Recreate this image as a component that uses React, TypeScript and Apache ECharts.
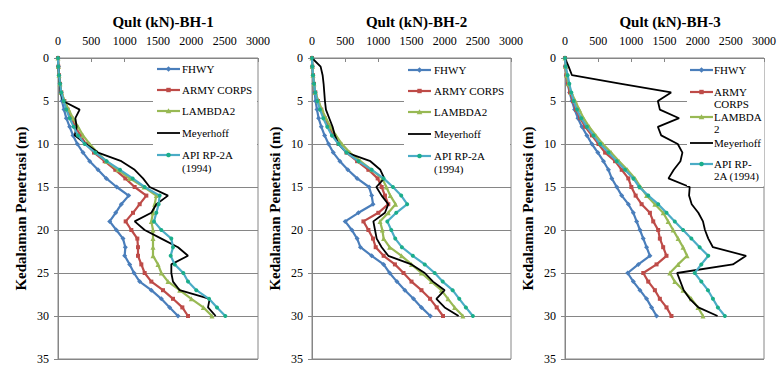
import React, { useEffect, useRef } from "react";
import * as echarts from "echarts";

const depths = [0, 1, 2, 3, 4, 5, 6, 7, 8, 9, 10, 11, 12, 13, 14, 15, 16, 17, 18, 19, 20, 21, 22, 23, 24, 25, 26, 27, 28, 29, 30];

const seriesNames = ["FHWY", "ARMY CORPS", "LAMBDA2", "Meyerhoff", "API RP-2A (1994)"];
const panelTitles = ["Qult (kN)-BH-1", "Qult (kN)-BH-2", "Qult (kN)-BH-3"];
const xTicks = [0, 500, 1000, 1500, 2000, 2500, 3000];
const yTicks = [0, 5, 10, 15, 20, 25, 30, 35];

// BH-1
const bh1Fhwy = [0, 5, 15, 30, 45, 60, 90, 125, 175, 225, 290, 375, 475, 600, 725, 880, 1060, 950, 865, 775, 875, 975, 1010, 1000, 1075, 1140, 1225, 1400, 1550, 1675, 1800];
const bh1Army = [0, 5, 15, 30, 50, 95, 145, 200, 260, 335, 420, 540, 700, 860, 1010, 1150, 1325, 1225, 1125, 1015, 1100, 1190, 1200, 1200, 1250, 1300, 1400, 1575, 1725, 1865, 1950];
const bh1Lambda = [0, 5, 15, 30, 50, 100, 160, 225, 300, 375, 475, 590, 725, 900, 1075, 1290, 1475, 1450, 1425, 1400, 1425, 1425, 1425, 1425, 1500, 1550, 1650, 1825, 2000, 2180, 2310];
const bh1Meyer = [0, 5, 15, 25, 40, 75, 325, 260, 280, 250, 420, 600, 950, 1150, 1275, 1375, 1650, 1475, 1400, 1150, 1300, 1550, 1800, 1950, 1700, 1700, 1725, 1825, 2275, 2250, 2365];
const bh1Api = [0, 5, 15, 30, 50, 85, 125, 175, 235, 300, 400, 560, 730, 930, 1120, 1300, 1525, 1510, 1475, 1440, 1550, 1700, 1725, 1690, 1750, 1880, 1950, 2075, 2265, 2385, 2510];

// BH-2
const bh2Fhwy = [0, 5, 15, 25, 40, 55, 75, 100, 140, 190, 250, 320, 420, 540, 680, 860, 900, 920, 700, 500, 600, 680, 730, 900, 1080, 1170, 1280, 1400, 1530, 1650, 1785];
const bh2Army = [0, 5, 15, 30, 50, 90, 140, 190, 250, 320, 400, 520, 680, 850, 990, 1050, 1100, 1150, 1000, 775, 850, 920, 960, 1080, 1250, 1380, 1500, 1650, 1780, 1880, 1975];
const bh2Lambda = [0, 5, 15, 30, 50, 95, 150, 210, 280, 360, 450, 570, 730, 900, 1060, 1120, 1180, 1260, 1150, 1025, 1060, 1080, 1170, 1350, 1500, 1650, 1800, 1950, 2050, 2150, 2275];
const bh2Meyer = [0, 130, 160, 175, 185, 195, 210, 260, 310, 345, 400, 520, 880, 1030, 1090, 970, 1050, 1150, 1100, 925, 950, 975, 1050, 1150, 1500, 1700, 1825, 2000, 1875, 2000, 2210];
const bh2Api = [0, 5, 15, 30, 50, 80, 120, 170, 230, 300, 400, 520, 700, 900, 1080, 1220, 1345, 1435, 1270, 1135, 1195, 1255, 1355, 1520, 1700, 1850, 1970, 2120, 2220, 2320, 2425];

// BH-3
const bh3Fhwy = [0, 5, 20, 40, 70, 105, 145, 195, 255, 330, 405, 495, 580, 655, 705, 780, 855, 955, 1030, 1080, 1130, 1180, 1230, 1280, 1105, 945, 1030, 1130, 1230, 1305, 1380];
const bh3Army = [0, 5, 20, 45, 75, 120, 165, 230, 305, 405, 505, 605, 755, 855, 955, 1000, 1065, 1155, 1280, 1330, 1405, 1430, 1480, 1530, 1380, 1180, 1255, 1355, 1430, 1530, 1605];
const bh3Lambda = [0, 10, 25, 50, 95, 155, 215, 280, 365, 465, 570, 695, 815, 940, 1055, 1140, 1230, 1355, 1480, 1555, 1630, 1705, 1780, 1840, 1705, 1580, 1655, 1780, 1905, 2005, 2080];
const bh3Meyer = [0, 55, 105, 850, 1600, 1400, 1430, 1720, 1400, 1450, 1700, 1770, 1740, 1640, 1560, 1880, 1870, 1910, 2010, 2080, 2110, 2160, 2230, 2730, 2530, 1690, 1740, 1790, 1880, 2010, 2300];
const bh3Api = [0, 10, 40, 65, 95, 130, 180, 245, 330, 430, 530, 655, 780, 905, 1030, 1120, 1255, 1405, 1530, 1655, 1780, 1905, 2030, 2160, 2055, 1955, 2055, 2155, 2230, 2305, 2410];

const panels = [
  [bh1Fhwy, bh1Army, bh1Lambda, bh1Meyer, bh1Api],
  [bh2Fhwy, bh2Army, bh2Lambda, bh2Meyer, bh2Api],
  [bh3Fhwy, bh3Army, bh3Lambda, bh3Meyer, bh3Api],
];

const legendLines = [
  [["FHWY"], ["ARMY CORPS"], ["LAMBDA2"], ["Meyerhoff"], ["API RP-2A", "(1994)"]],
  [["FHWY"], ["ARMY CORPS"], ["LAMBDA2"], ["Meyerhoff"], ["API RP-2A", "(1994)"]],
  [["FHWY"], ["ARMY", "CORPS"], ["LAMBDA", "2"], ["Meyerhoff"], ["API RP-", "2A (1994)"]],
];

const COLORS = ["#4A7EBB", "#BE4B48", "#98B954", "#000000", "#4BACC6"];
const SYMBOLS = ["diamond", "rect", "triangle", "none", "circle"];
const SYM_SIZE = [5, 4, 5, 0, 4];
const FONT = "'Liberation Serif', 'Times New Roman', serif";
const AXIS_GRAY = "#868686";

const gridLeft = [58, 312, 565];
const gridW = [200, 199, 200];
const gridTop = 58;
const gridH = 302;

// legend layouts
const legendBox = [
  { x: 153, y: 59, w: 104, h: 118, lineX: 157, textX: 182, ys: [69, 90, 111, 133, 155], lh: 13 },
  { x: 404, y: 59, w: 106, h: 118, lineX: 408, textX: 434, ys: [70, 91, 112, 134, 156], lh: 13 },
  { x: 687, y: 59, w: 77, h: 127, lineX: 690, textX: 714, ys: [70, 92, 117, 143, 164], lh: 12 },
];

function markerGraphic(kind: number, cx: number, cy: number, color: string) {
  if (kind === 0) {
    return { type: "polygon", z: 101, shape: { points: [[cx, cy - 2.8], [cx + 2.8, cy], [cx, cy + 2.8], [cx - 2.8, cy]] }, style: { fill: color } };
  }
  if (kind === 1) {
    return { type: "rect", z: 101, shape: { x: cx - 2.2, y: cy - 2.2, width: 4.4, height: 4.4 }, style: { fill: color } };
  }
  if (kind === 2) {
    return { type: "polygon", z: 101, shape: { points: [[cx, cy - 2.8], [cx + 2.8, cy + 2.2], [cx - 2.8, cy + 2.2]] }, style: { fill: color } };
  }
  if (kind === 4) {
    return { type: "circle", z: 101, shape: { cx, cy, r: 2.3 }, style: { fill: "#1BAE8A" } };
  }
  return null;
}

export default function App() {
  const ref = useRef<HTMLDivElement>(null);
  useEffect(() => {
    if (!ref.current) return;
    const chart = echarts.init(ref.current, undefined, { renderer: "svg" });

    const grid = gridLeft.map((l, i) => ({
      left: l,
      top: gridTop,
      width: gridW[i],
      height: gridH,
      show: true,
      borderColor: AXIS_GRAY,
      borderWidth: 1,
      backgroundColor: "transparent",
    }));

    const xAxis = gridLeft.map((_, i) => ({
      type: "value",
      gridIndex: i,
      position: "top",
      min: xTicks[0],
      max: xTicks[xTicks.length - 1],
      interval: xTicks[1] - xTicks[0],
      axisLine: { show: true, lineStyle: { color: AXIS_GRAY, width: 1 } },
      axisTick: { show: true, inside: true, length: 4, lineStyle: { color: AXIS_GRAY } },
      axisLabel: { color: "#000", fontFamily: FONT, fontSize: 12, margin: 11, formatter: (v: number) => String(v) },
      splitLine: { show: false },
    }));

    const yAxis = gridLeft.map((_, i) => ({
      type: "value",
      gridIndex: i,
      inverse: true,
      min: yTicks[0],
      max: yTicks[yTicks.length - 1],
      interval: yTicks[1] - yTicks[0],
      name: "Kedalaman Penetrasi (m)",
      nameLocation: "middle",
      nameRotate: 90,
      nameGap: 30,
      nameTextStyle: { color: "#000", fontFamily: FONT, fontSize: 15, fontWeight: "bold" },
      axisLine: { show: true, lineStyle: { color: AXIS_GRAY, width: 1 } },
      axisTick: { show: true, inside: false, length: 4, lineStyle: { color: AXIS_GRAY } },
      axisLabel: { color: "#000", fontFamily: FONT, fontSize: 12, margin: 9, formatter: (v: number) => String(v) },
      splitLine: { show: true, lineStyle: { color: AXIS_GRAY, width: 1 } },
    }));

    const series: any[] = [];
    panels.forEach((vals, p) => {
      vals.forEach((arr, s) => {
        series.push({
          type: "line",
          name: seriesNames[s],
          xAxisIndex: p,
          yAxisIndex: p,
          data: arr.map((v, k) => [v, depths[k]]),
          symbol: SYMBOLS[s],
          symbolSize: SYM_SIZE[s],
          showSymbol: s !== 3,
          lineStyle: { color: COLORS[s], width: s === 3 ? 1.8 : 2.2 },
          itemStyle: { color: s === 4 ? "#1BAE8A" : COLORS[s], borderWidth: 0 },
          z: 3 + s,
        });
      });
    });

    const graphics: any[] = [];
    legendBox.forEach((lb, p) => {
      graphics.push({ type: "rect", z: 100, shape: { x: lb.x, y: lb.y, width: lb.w, height: lb.h }, style: { fill: "#fff" } });
      legendLines[p].forEach((lines, s) => {
        const cy = lb.ys[s];
        graphics.push({
          type: "line",
          z: 101,
          shape: { x1: lb.lineX, y1: cy, x2: lb.lineX + 23, y2: cy },
          style: { stroke: COLORS[s], lineWidth: s === 3 ? 1.8 : 2.2 },
        });
        const m = markerGraphic(s, lb.lineX + 11.5, cy, COLORS[s]);
        if (m) graphics.push(m);
        lines.forEach((t, k) => {
          graphics.push({
            type: "text",
            z: 101,
            x: lb.textX,
            y: cy + k * lb.lh,
            style: { text: t, fill: "#000", fontFamily: FONT, fontSize: 11, align: "left", verticalAlign: "middle" },
          });
        });
      });
    });

    const title = panelTitles.map((t, i) => ({
      text: t,
      left: gridLeft[i] + gridW[i] / 2,
      top: 9,
      textAlign: "center",
      textStyle: { color: "#000", fontFamily: FONT, fontSize: 15, fontWeight: "bold" },
    }));

    chart.setOption({
      animation: false,
      backgroundColor: "#fff",
      title,
      grid,
      xAxis,
      yAxis,
      series,
      graphic: graphics,
    });
    return () => chart.dispose();
  }, []);
  return <div ref={ref} style={{ position: "fixed", left: 0, top: 0, width: 779, height: 365 }} />;
}
